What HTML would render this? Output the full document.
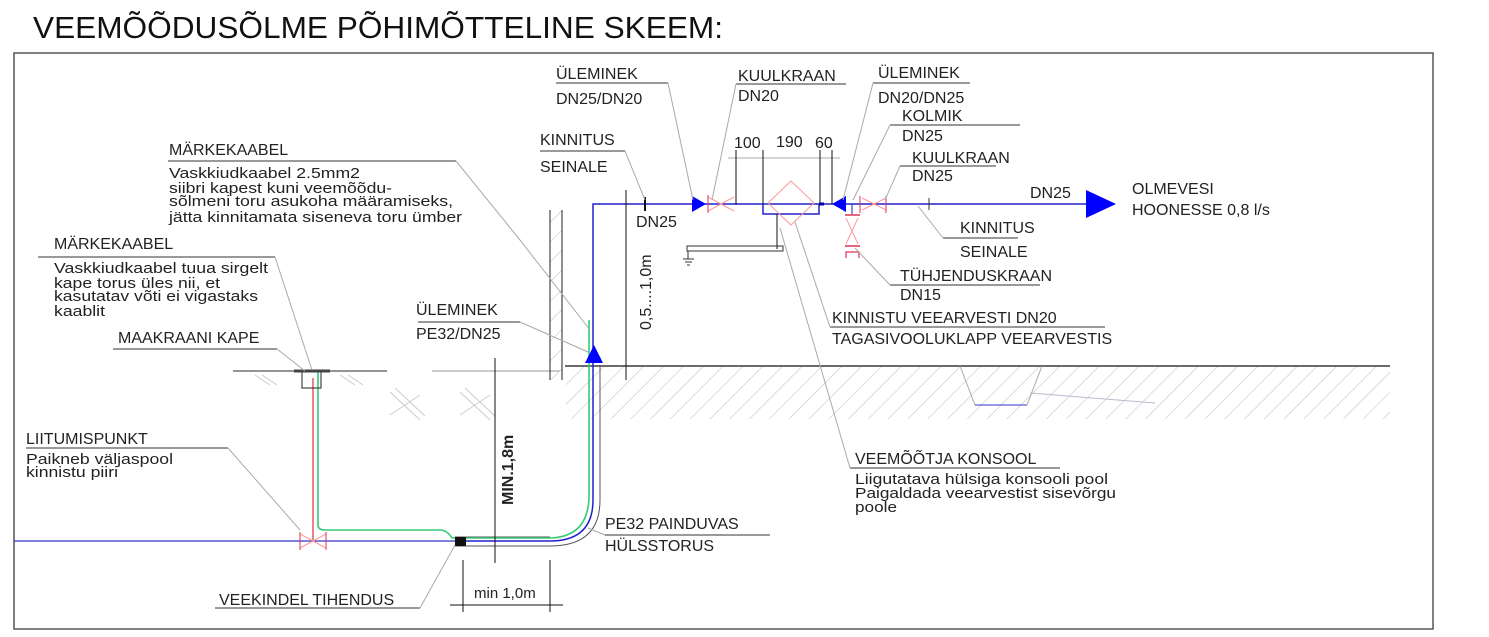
<!DOCTYPE html>
<html><head><meta charset="utf-8"><style>
html,body{margin:0;padding:0;background:#fff;}
svg{display:block;}
text{font-family:"Liberation Sans",sans-serif;fill:#222;}
.l{font-size:16px;}
.s{font-size:15px;}
.ld{stroke:#aaa;stroke-width:1;fill:none;}
.ul{stroke:#333;stroke-width:1;}
</style></head><body>
<svg width="1489" height="637" viewBox="0 0 1489 637" xmlns="http://www.w3.org/2000/svg">
<defs>
<pattern id="h" width="14" height="14" patternUnits="userSpaceOnUse" patternTransform="rotate(45)">
<line x1="0" y1="0" x2="0" y2="14" stroke="#bbb" stroke-width="1"/>
</pattern>
</defs>
<text x="33" y="38" font-size="31" textLength="690" lengthAdjust="spacingAndGlyphs" style="fill:#111">VEEMÕÕDUSÕLME PÕHIMÕTTELINE SKEEM:</text>
<rect x="14" y="53" width="1419" height="576" fill="none" stroke="#555" stroke-width="1.5"/>

<rect x="566" y="367" width="824" height="52" fill="url(#h)"/>
<line x1="565" y1="366" x2="1390" y2="366" stroke="#111" stroke-width="1.2"/>
<polyline points="960,366 975,405" class="ld"/><line x1="975" y1="405" x2="1027" y2="405" stroke="#33c"/><polyline points="1027,405 1042,366" class="ld"/><line x1="1030" y1="393" x2="1155" y2="403" stroke="#bbc"/>
<line x1="233" y1="371" x2="387" y2="371" stroke="#555" stroke-width="1.2"/>
<line x1="432" y1="371" x2="560" y2="371" stroke="#aaa" stroke-width="1.2"/>
<g stroke="#ccc"><line x1="255" y1="375" x2="270" y2="385"/><line x1="262" y1="375" x2="277" y2="385"/><line x1="340" y1="375" x2="355" y2="385"/><line x1="348" y1="375" x2="363" y2="385"/>
<line x1="390" y1="392" x2="420" y2="420"/><line x1="395" y1="388" x2="425" y2="416"/><line x1="390" y1="415" x2="420" y2="395"/><line x1="460" y1="392" x2="490" y2="420"/><line x1="465" y1="388" x2="495" y2="416"/><line x1="460" y1="415" x2="490" y2="395"/></g>

<rect x="550" y="210" width="12" height="170" fill="url(#h)"/>
<line x1="550" y1="210" x2="550" y2="380" stroke="#222"/><line x1="562" y1="210" x2="562" y2="380" stroke="#222"/>

<line x1="14" y1="541" x2="455" y2="541" stroke="#33c" stroke-width="1.3"/>
<path d="M455 541 H550 Q593 541 593 500 V204 H1090" fill="none" stroke="#22c" stroke-width="1.5"/>
<path d="M455 537 H550 M455 546 H550 Q600 546 600 500 V365" fill="none" stroke="#555" stroke-width="1"/>
<path d="M318 372 V525 Q318 530 325 530 H440 Q447 530 452 538 H548 Q589 538 589 495 V320" fill="none" stroke="#3c7" stroke-width="1.6"/>
<line x1="313" y1="378" x2="313" y2="540" stroke="#d33" stroke-width="1.2"/>
<rect x="302" y="371" width="19" height="17" fill="none" stroke="#222"/>
<line x1="294" y1="371" x2="330" y2="371" stroke="#444" stroke-width="3"/>
<rect x="455" y="537" width="11" height="9" fill="#111"/>
<path d="M300 534 L326 548 M300 548 L326 534" stroke="#f99" fill="none"/>
<line x1="300" y1="532" x2="300" y2="550" stroke="#d35"/><line x1="326" y1="532" x2="326" y2="550" stroke="#d35"/>
<polygon points="594,345 585,363 603,363" fill="#00f"/>

<line x1="495" y1="358" x2="495" y2="563" stroke="#111"/>
<text x="0" y="0" font-size="16" font-weight="bold" transform="translate(513,505) rotate(-90)">MIN.1,8m</text>
<line x1="463" y1="560" x2="463" y2="612" stroke="#111"/><line x1="550" y1="560" x2="550" y2="612" stroke="#111"/>
<line x1="450" y1="605" x2="563" y2="605" stroke="#111"/>
<text x="474" y="598" class="s">min 1,0m</text>
<line x1="626" y1="190" x2="626" y2="380" stroke="#111"/>
<text font-size="16" transform="translate(651,330) rotate(-90)">0,5....1,0m</text>

<line x1="645" y1="197" x2="645" y2="211" stroke="#111" stroke-width="2"/>
<text x="636" y="227" class="l">DN25</text>
<polygon points="692,196 706,204 692,212" fill="#00f"/>
<path d="M708 197 L734 211 M708 211 L734 197" stroke="#f99" fill="none"/>
<line x1="708" y1="195" x2="708" y2="213" stroke="#d35"/>
<line x1="728" y1="158" x2="840" y2="158" stroke="#aaa"/>
<g stroke="#111"><line x1="736" y1="150" x2="736" y2="205"/><line x1="763" y1="150" x2="763" y2="204"/><line x1="820" y1="150" x2="820" y2="204"/><line x1="832" y1="150" x2="832" y2="204"/></g>
<text x="734" y="148" class="l">100</text><text x="776" y="147" class="l">190</text><text x="815" y="148" class="l">60</text>
<path d="M763 204 V214 H819 V204" fill="none" stroke="#22c" stroke-width="1.5"/>
<polygon points="791,181 814,203 791,225 768,203" fill="none" stroke="#f99"/>
<line x1="819" y1="204" x2="824" y2="204" stroke="#00a" stroke-width="3"/>
<polygon points="832,204 846,196 846,212" fill="#00f"/>
<line x1="777" y1="214" x2="777" y2="249" stroke="#111"/>
<rect x="687" y="246" width="96" height="5" fill="none" stroke="#333"/>
<path d="M688 251 V259 M683 259 H694 M685 262 H692 M687 265 H690" stroke="#333"/>
<line x1="852" y1="204" x2="852" y2="214" stroke="#22c"/>
<line x1="845" y1="215" x2="860" y2="215" stroke="#d35" stroke-width="1.5"/>
<path d="M846 218 L858 244 M858 218 L846 244" stroke="#f99" fill="none"/>
<line x1="845" y1="246" x2="860" y2="246" stroke="#d35" stroke-width="1.5"/>
<path d="M846 258 V252 H859 V258" fill="none" stroke="#d35" stroke-width="1.2"/>
<path d="M862 198 L886 210 M862 210 L886 198" stroke="#f99" fill="none"/>
<line x1="860" y1="196" x2="860" y2="213" stroke="#d35"/><line x1="886" y1="196" x2="886" y2="213" stroke="#d35"/>
<line x1="929" y1="198" x2="929" y2="210" stroke="#333"/>
<polygon points="1086,190 1116,204 1086,218" fill="#00f"/>
<text x="1030" y="198" class="l">DN25</text>
<text x="1132" y="194" class="l">OLMEVESI</text>
<text x="1132" y="215" class="l">HOONESSE 0,8 l/s</text>

<g class="l">
<text x="556" y="79">ÜLEMINEK</text><text x="556" y="104">DN25/DN20</text>
<text x="738" y="81">KUULKRAAN</text><text x="738" y="101">DN20</text>
<text x="540" y="145">KINNITUS</text><text x="540" y="172">SEINALE</text>
<text x="878" y="78">ÜLEMINEK</text><text x="878" y="103">DN20/DN25</text>
<text x="902" y="121">KOLMIK</text><text x="902" y="141">DN25</text>
<text x="912" y="163">KUULKRAAN</text><text x="912" y="181">DN25</text>
<text x="960" y="233">KINNITUS</text><text x="960" y="257">SEINALE</text>
<text x="900" y="281">TÜHJENDUSKRAAN</text><text x="900" y="300">DN15</text>
<text x="832" y="323">KINNISTU VEEARVESTI DN20</text><text x="832" y="344">TAGASIVOOLUKLAPP VEEARVESTIS</text>
<text x="855" y="464">VEEMÕÕTJA KONSOOL</text>
<text x="169" y="155">MÄRKEKAABEL</text>
<text x="54" y="249">MÄRKEKAABEL</text>
<text x="118" y="343">MAAKRAANI KAPE</text>
<text x="26" y="444">LIITUMISPUNKT</text>
<text x="416" y="315">ÜLEMINEK</text><text x="416" y="339">PE32/DN25</text>
<text x="605" y="529">PE32 PAINDUVAS</text><text x="605" y="551">HÜLSSTORUS</text>
<text x="219" y="605">VEEKINDEL TIHENDUS</text>
</g>
<g class="s">
<text x="169" y="178" textLength="191" lengthAdjust="spacingAndGlyphs">Vaskkiudkaabel 2.5mm2</text>
<text x="169" y="193" textLength="223" lengthAdjust="spacingAndGlyphs">siibri kapest kuni veemõõdu-</text>
<text x="169" y="206" textLength="284" lengthAdjust="spacingAndGlyphs">sõlmeni toru asukoha määramiseks,</text>
<text x="169" y="222" textLength="293" lengthAdjust="spacingAndGlyphs">jätta kinnitamata siseneva toru ümber</text>
<text x="54" y="273" textLength="214" lengthAdjust="spacingAndGlyphs">Vaskkiudkaabel tuua sirgelt</text>
<text x="54" y="288" textLength="166" lengthAdjust="spacingAndGlyphs">kape torus üles nii, et</text>
<text x="54" y="301" textLength="204" lengthAdjust="spacingAndGlyphs">kasutatav võti ei vigastaks</text>
<text x="54" y="316" textLength="51" lengthAdjust="spacingAndGlyphs">kaablit</text>
<text x="26" y="464" textLength="147" lengthAdjust="spacingAndGlyphs">Paikneb väljaspool</text>
<text x="26" y="477" textLength="92" lengthAdjust="spacingAndGlyphs">kinnistu piiri</text>
<text x="855" y="484" textLength="253" lengthAdjust="spacingAndGlyphs">Liigutatava hülsiga konsooli pool</text>
<text x="855" y="498" textLength="261" lengthAdjust="spacingAndGlyphs">Paigaldada veearvestist sisevõrgu</text>
<text x="855" y="512" textLength="42" lengthAdjust="spacingAndGlyphs">poole</text>
</g>
<g class="ul">
<line x1="556" y1="83" x2="668" y2="83"/><line x1="736" y1="84" x2="846" y2="84"/>
<line x1="540" y1="151" x2="625" y2="151"/><line x1="873" y1="83" x2="970" y2="83"/>
<line x1="890" y1="125" x2="1020" y2="125"/><line x1="900" y1="166" x2="996" y2="166"/>
<line x1="943" y1="238" x2="1018" y2="238"/><line x1="890" y1="285" x2="1040" y2="285"/>
<line x1="830" y1="327" x2="1105" y2="327"/><line x1="850" y1="468" x2="1060" y2="468"/>
<line x1="168" y1="161" x2="456" y2="161"/><line x1="38" y1="257" x2="275" y2="257"/>
<line x1="113" y1="349" x2="277" y2="349"/><line x1="26" y1="448" x2="228" y2="448"/>
<line x1="418" y1="322" x2="520" y2="322"/><line x1="605" y1="535" x2="770" y2="535"/>
<line x1="215" y1="608" x2="420" y2="608"/>
</g>
<g class="ld">
<line x1="668" y1="83" x2="693" y2="200"/><line x1="736" y1="84" x2="712" y2="200"/>
<line x1="625" y1="151" x2="645" y2="200"/><line x1="873" y1="83" x2="843" y2="200"/>
<line x1="890" y1="125" x2="853" y2="200"/><line x1="900" y1="166" x2="885" y2="200"/>
<line x1="943" y1="238" x2="918" y2="206"/><line x1="890" y1="285" x2="855" y2="248"/>
<line x1="830" y1="327" x2="795" y2="222"/><line x1="850" y1="468" x2="780" y2="228"/>
<polyline points="456,161 520,240 590,330"/><line x1="275" y1="257" x2="312" y2="370"/>
<line x1="277" y1="349" x2="305" y2="371"/><line x1="228" y1="448" x2="300" y2="530"/>
<line x1="520" y1="322" x2="588" y2="352"/><line x1="605" y1="535" x2="588" y2="528"/>
<line x1="420" y1="608" x2="455" y2="545"/>
</g>
</svg>
</body></html>
